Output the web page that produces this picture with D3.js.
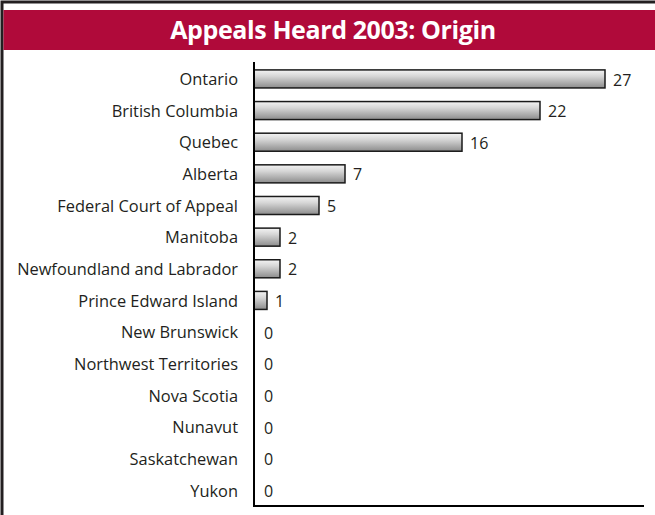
<!DOCTYPE html>
<html>
<head>
<meta charset="utf-8">
<script src="https://cdn.jsdelivr.net/npm/d3@7"></script>
<style>
  body { margin: 0; background: #fff; }
  svg { display: block; font-family: "Open Sans", sans-serif; }
</style>
</head>
<body>
<div id="chart"></div>
<script>
// Appeals heard 2003, by origin
const origins = ["Ontario", "British Columbia", "Quebec", "Alberta", "Federal Court of Appeal",
  "Manitoba", "Newfoundland and Labrador", "Prince Edward Island", "New Brunswick",
  "Northwest Territories", "Nova Scotia", "Nunavut", "Saskatchewan", "Yukon"];
const appeals = [27, 22, 16, 7, 5, 2, 2, 1, 0, 0, 0, 0, 0, 0];
const xMax = 30;

const width = 655, height = 515;
const plot = {left: 254, right: 644, top: 62, bottom: 506};

const svg = d3.select("#chart").append("svg")
    .attr("width", width)
    .attr("height", height);

// bar gradient
const grad = svg.append("defs").append("linearGradient")
    .attr("id", "barGrad")
    .attr("x1", 0).attr("y1", 0).attr("x2", 0).attr("y2", 1);
grad.append("stop").attr("offset", "0%").attr("stop-color", "#f4f4f4");
grad.append("stop").attr("offset", "35%").attr("stop-color", "#d6d6d6");
grad.append("stop").attr("offset", "100%").attr("stop-color", "#8c8c8c");

// frame + header band
svg.append("rect")
    .attr("x", 2).attr("y", 2).attr("width", width).attr("height", height + 10)
    .attr("fill", "none").attr("stroke", "#231f20").attr("stroke-width", 3);
svg.append("rect")
    .attr("x", 3.5).attr("y", 10).attr("width", width).attr("height", 40)
    .attr("fill", "#b00a3a");
svg.append("text")
    .attr("x", 333).attr("y", 39)
    .attr("text-anchor", "middle")
    .attr("fill", "#fff")
    .style("font-size", "25px")
    .style("font-weight", "bold")
    .style("letter-spacing", "-0.4px")
    .text("Appeals Heard 2003: Origin");

const x = d3.scaleLinear().domain([0, xMax]).range([plot.left, plot.right]);
const y = d3.scaleBand()
    .domain(origins)
    .range([plot.top, plot.top + 31.8 * origins.length])
    .paddingInner(0.43)
    .paddingOuter(0.25);

const data = origins.map((d, i) => ({name: d, value: appeals[i]}));

// bars
svg.selectAll("rect.bar")
    .data(data.filter(d => d.value > 0))
    .join("rect")
    .attr("class", "bar")
    .attr("x", x(0))
    .attr("y", d => y(d.name))
    .attr("width", d => x(d.value) - x(0))
    .attr("height", y.bandwidth())
    .attr("fill", "url(#barGrad)")
    .attr("stroke", "#1a1a1a")
    .attr("stroke-width", 1.5);

// value labels
svg.selectAll("text.val")
    .data(data)
    .join("text")
    .attr("class", "val")
    .attr("x", d => x(d.value) + (d.value > 0 ? 8 : 10))
    .attr("y", d => y(d.name) + y.bandwidth() / 2 + 1)
    .attr("dy", "0.35em")
    .attr("fill", "#231f20")
    .style("font-size", "16px")
    .text(d => d.value);

// category axis (labels only, plus line)
const yAxis = svg.append("g")
    .attr("transform", `translate(${plot.left},0)`)
    .call(d3.axisLeft(y).tickSize(0).tickPadding(16));
yAxis.select(".domain").remove();
yAxis.selectAll("text")
    .attr("fill", "#231f20")
    .attr("dy", "0.38em")
    .style("font-family", "'Open Sans', sans-serif")
    .style("font-size", "16.4px");

svg.append("line")
    .attr("x1", x(0)).attr("x2", x(0))
    .attr("y1", plot.top).attr("y2", plot.bottom + 1)
    .attr("stroke", "#000").attr("stroke-width", 2);
svg.append("line")
    .attr("x1", x(0) - 1).attr("x2", plot.right)
    .attr("y1", plot.bottom).attr("y2", plot.bottom)
    .attr("stroke", "#000").attr("stroke-width", 2);
</script>
</body>
</html>
